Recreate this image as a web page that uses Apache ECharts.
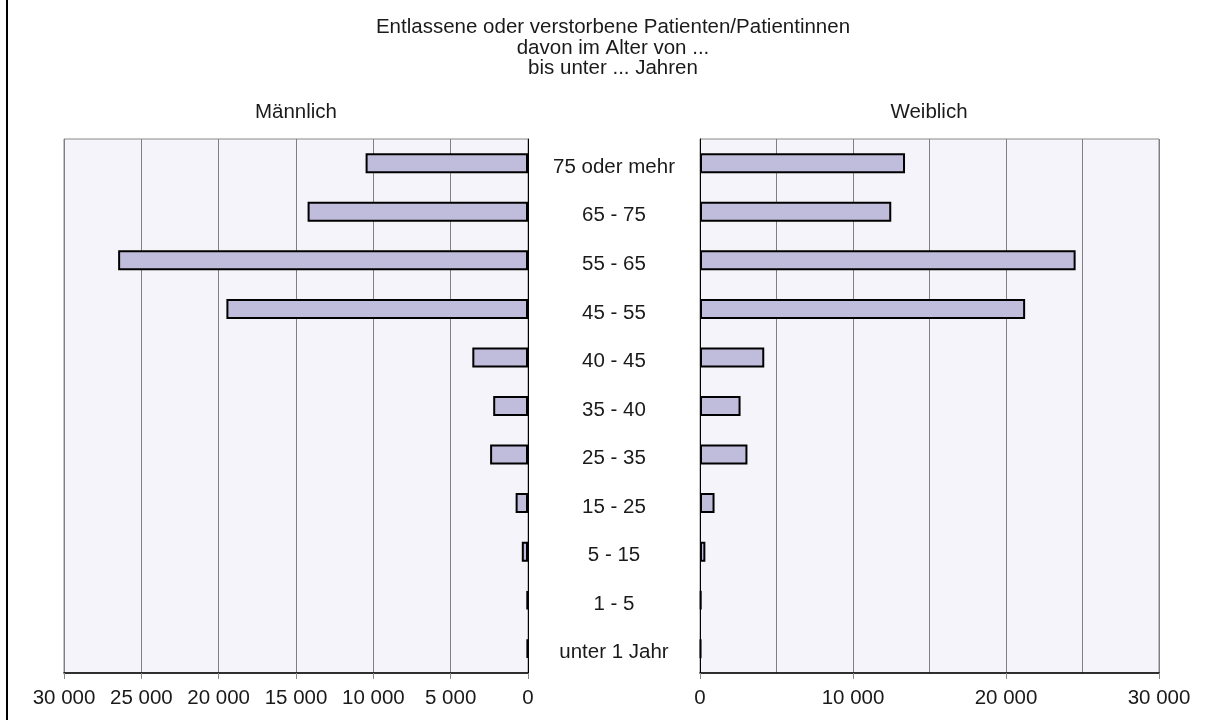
<!DOCTYPE html>
<html>
<head>
<meta charset="utf-8">
<script src="https://cdn.jsdelivr.net/npm/echarts@6/dist/echarts.min.js"></script>
<style>
html,body{margin:0;padding:0;background:#fff;}
#c{width:1226px;height:720px;}
</style>
</head>
<body>
<div id="c"></div>
<script>
const categories = ["unter 1 Jahr","1 - 5","5 - 15","15 - 25","25 - 35","35 - 40","40 - 45","45 - 55","55 - 65","65 - 75","75 oder mehr"];
const maleValues = [80, 90, 400, 800, 2450, 2250, 3600, 19500, 26500, 14250, 10500];
const femaleValues = [70, 90, 350, 950, 3100, 2650, 4200, 21250, 24550, 12500, 13400];
const titleLines = ["Entlassene oder verstorbene Patienten/Patientinnen", "davon im Alter von ...", "bis unter ... Jahren"];
const maleLabel = "Männlich";
const femaleLabel = "Weiblich";

const FONT = "'Liberation Sans', Arial, sans-serif";
const FS = 20.5;
const TXT = '#1a1a1a';
const fmt = v => String(v).replace(/\B(?=(\d{3})+(?!\d))/g, ' ');

const chart = echarts.init(document.getElementById('c'));
const barStyle = { color: '#c0bcdc', borderColor: '#000', borderWidth: 2 };

chart.setOption({
  animation: false,
  textStyle: { fontFamily: FONT },
  graphic: [
    { type: 'rect', shape: { x: 6, y: 0, width: 2, height: 720 }, style: { fill: '#000' } },
    { type: 'text', left: 'center', top: 17, style: { text: titleLines[0], font: FS + 'px ' + FONT, fill: TXT } },
    { type: 'text', left: 'center', top: 38, style: { text: titleLines[1], font: FS + 'px ' + FONT, fill: TXT } },
    { type: 'text', left: 'center', top: 58, style: { text: titleLines[2], font: FS + 'px ' + FONT, fill: TXT } },
    { type: 'text', x: 296, y: 102, style: { text: maleLabel, font: FS + 'px ' + FONT, fill: TXT, align: 'center' } },
    { type: 'text', x: 929, y: 102, style: { text: femaleLabel, font: FS + 'px ' + FONT, fill: TXT, align: 'center' } }
  ],
  grid: [
    { left: 64, top: 139, width: 464, height: 534, show: true, backgroundColor: '#f4f4fa', borderColor: '#888', borderWidth: 1 },
    { left: 700, top: 139, width: 459, height: 534, show: true, backgroundColor: '#f4f4fa', borderColor: '#888', borderWidth: 1 }
  ],
  xAxis: [
    { type: 'value', gridIndex: 0, inverse: true, min: 0, max: 30000, interval: 5000,
      axisLine: { show: true, lineStyle: { color: '#000', width: 1.5 } },
      axisTick: { show: true, length: 6, lineStyle: { color: '#888' } },
      axisLabel: { formatter: fmt, color: TXT, fontSize: FS, margin: 15, fontFamily: FONT },
      splitLine: { show: true, lineStyle: { color: '#808080', width: 1 } } },
    { type: 'value', gridIndex: 1, min: 0, max: 30000, interval: 10000,
      axisLine: { show: true, lineStyle: { color: '#000', width: 1.5 } },
      axisTick: { show: true, length: 6, lineStyle: { color: '#888' } },
      axisLabel: { formatter: fmt, color: TXT, fontSize: FS, margin: 15, fontFamily: FONT },
      splitLine: { show: true, lineStyle: { color: '#808080', width: 1 } },
      minorTick: { show: false, splitNumber: 2 },
      minorSplitLine: { show: true, lineStyle: { color: '#808080', width: 1 } } }
  ],
  yAxis: [
    { type: 'category', gridIndex: 0, position: 'right', data: categories,
      axisLine: { show: true, lineStyle: { color: '#000', width: 1 } },
      axisTick: { show: false }, axisLabel: { show: false } },
    { type: 'category', gridIndex: 1, position: 'left', data: categories,
      axisLine: { show: true, lineStyle: { color: '#000', width: 1 } },
      axisTick: { show: false },
      axisLabel: { show: true, margin: 86, align: 'center', verticalAlign: 'top', lineHeight: 8, color: TXT, fontSize: FS, fontFamily: FONT } }
  ],
  series: [
    { type: 'bar', name: maleLabel, xAxisIndex: 0, yAxisIndex: 0, data: maleValues, barWidth: 20, itemStyle: barStyle },
    { type: 'bar', name: femaleLabel, xAxisIndex: 1, yAxisIndex: 1, data: femaleValues, barWidth: 20, itemStyle: barStyle }
  ]
});
</script>
</body>
</html>
